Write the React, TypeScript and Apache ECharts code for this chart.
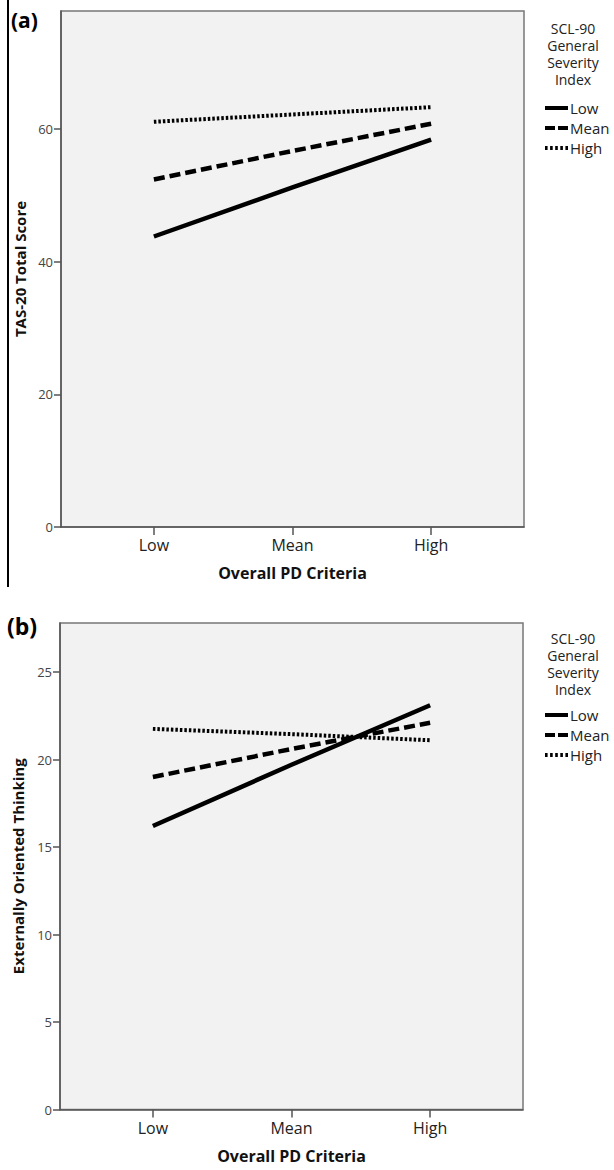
import React, { useEffect, useRef } from "react";
import * as echarts from "echarts";

const xCategories = ["Low", "Mean", "High"];
const seriesNames = ["Low", "Mean", "High"];
const legendTitleLines = ["SCL-90", "General", "Severity", "Index"];

// Panel (a): TAS-20 Total Score
const tasLow = [43.8, 51.2, 58.4];
const tasMean = [52.4, 56.7, 60.8];
const tasHigh = [61.1, 62.2, 63.3];
const tasTicks = [0, 20, 40, 60];

// Panel (b): Externally Oriented Thinking
const eotLow = [16.2, 19.7, 23.1];
const eotMean = [19.0, 20.6, 22.1];
const eotHigh = [21.75, 21.45, 21.1];
const eotTicks = [0, 5, 10, 15, 20, 25];

const FONT = "'Open Sans', 'DejaVu Sans', sans-serif";

const legendIcons = [
  "path://M0,0h23v4h-23z",
  "path://M0,0h10v4h-10zM13,0h10v4h-10z",
  "path://M0,0h2.6v4h-2.6zM5.1,0h2.6v4h-2.6zM10.2,0h2.6v4h-2.6zM15.3,0h2.6v4h-2.6zM20.4,0h2.6v4h-2.6z",
];

export default function App() {
  const ref = useRef<HTMLDivElement>(null);

  useEffect(() => {
    if (!ref.current) return;
    const chart = echarts.init(ref.current, null, { renderer: "svg" });

    const lineTypes: any[] = ["solid", [11, 5], [2.5, 2]];
    const widths = [4.5, 4.5, 4];
    const mk = (vals: number[], i: number, idx: number) => ({
      type: "line",
      name: seriesNames[i],
      xAxisIndex: idx,
      yAxisIndex: idx,
      symbol: "none",
      showSymbol: false,
      data: xCategories.map((_, k) => [k, vals[k]]),
      lineStyle: { color: "#000", width: widths[i], type: lineTypes[i], cap: "butt" },
      itemStyle: { color: "#000" },
      z: 3,
    });

    const xAxisCommon = (gridIndex: number) => ({
      type: "value",
      gridIndex,
      min: -0.67,
      max: 2.67,
      splitLine: { show: false },
      axisLine: { show: true, onZero: false, lineStyle: { color: "#555", width: 1.5 } },
      axisTick: { show: true, customValues: [0, 1, 2], length: 8, lineStyle: { color: "#555", width: 1.5 } },
      axisLabel: {
        customValues: [0, 1, 2],
        formatter: (v: number) => xCategories[Math.round(v)] ?? "",
        fontFamily: FONT,
        fontSize: 16,
        color: "#222",
        margin: 10,
      },
      name: "Overall PD Criteria",
      nameLocation: "middle",
      nameGap: 38,
      nameTextStyle: { fontFamily: FONT, fontSize: 16, fontWeight: "bold", color: "#111" },
    });

    const yAxisCommon = (gridIndex: number, max: number, ticks: number[], name: string, gap: number) => ({
      type: "value",
      gridIndex,
      min: 0,
      max,
      splitLine: { show: false },
      axisLine: { show: true, onZero: false, lineStyle: { color: "#555", width: 1.5 } },
      axisTick: { show: true, customValues: ticks, length: 7, lineStyle: { color: "#555", width: 1.5 } },
      axisLabel: {
        customValues: ticks,
        fontFamily: FONT,
        fontSize: 13,
        color: "#444",
        margin: 8,
      },
      name,
      nameLocation: "middle",
      nameGap: gap,
      nameTextStyle: { fontFamily: FONT, fontSize: 15, fontWeight: "bold", color: "#111" },
    });

    const legendCommon = (top: number) => ({
      orient: "vertical",
      left: 540,
      top,
      itemWidth: 23,
      itemHeight: 4,
      itemGap: 0,
      data: seriesNames.map((n, i) => ({ name: n, icon: legendIcons[i] })),
      selectedMode: false,
      textStyle: { fontFamily: FONT, fontSize: 15, color: "#222", lineHeight: 20, padding: [0, 0, 0, -3] },
    });

    const legendTitle = (y: number) =>
      legendTitleLines.map((t, k) => ({
        type: "text",
        x: 573,
        y: y + k * 17,
        style: {
          text: t,
          fontFamily: FONT,
          fontSize: 14,
          fill: "#222",
          textAlign: "center",
          textVerticalAlign: "middle",
        },
      }));

    chart.setOption({
      animation: false,
      backgroundColor: "#fff",
      grid: [
        { left: 61, top: 11, width: 463, height: 516, show: true, backgroundColor: "#f2f2f2", borderColor: "#777", borderWidth: 1.5 },
        { left: 60, top: 623, width: 463, height: 486.5, show: true, backgroundColor: "#f2f2f2", borderColor: "#777", borderWidth: 1.5 },
      ],
      xAxis: [xAxisCommon(0), xAxisCommon(1)],
      yAxis: [
        yAxisCommon(0, 77.8, tasTicks, "TAS-20 Total Score", 34),
        yAxisCommon(1, 27.8, eotTicks, "Externally Oriented Thinking", 35),
      ],
      legend: [legendCommon(93), legendCommon(700)],
      series: [
        mk(tasLow, 0, 0),
        mk(tasMean, 1, 0),
        mk(tasHigh, 2, 0),
        mk(eotLow, 0, 1),
        mk(eotMean, 1, 1),
        mk(eotHigh, 2, 1),
      ],
      graphic: [
        {
          type: "line",
          shape: { x1: 8, y1: 0, x2: 8, y2: 587 },
          style: { stroke: "#000", lineWidth: 2 },
        },
        {
          type: "text",
          x: 11,
          y: 9,
          style: { text: "(a)", fontFamily: FONT, fontSize: 21, fontWeight: "bold", fill: "#000" },
        },
        {
          type: "text",
          x: 7,
          y: 614,
          style: { text: "(b)", fontFamily: FONT, fontSize: 23, fontWeight: "bold", fill: "#000" },
        },
        ...legendTitle(28),
        ...legendTitle(638),
      ],
    });

    return () => chart.dispose();
  }, []);

  return (
    <div
      ref={ref}
      style={{ position: "absolute", left: 0, top: 0, width: 614, height: 1170 }}
    />
  );
}
